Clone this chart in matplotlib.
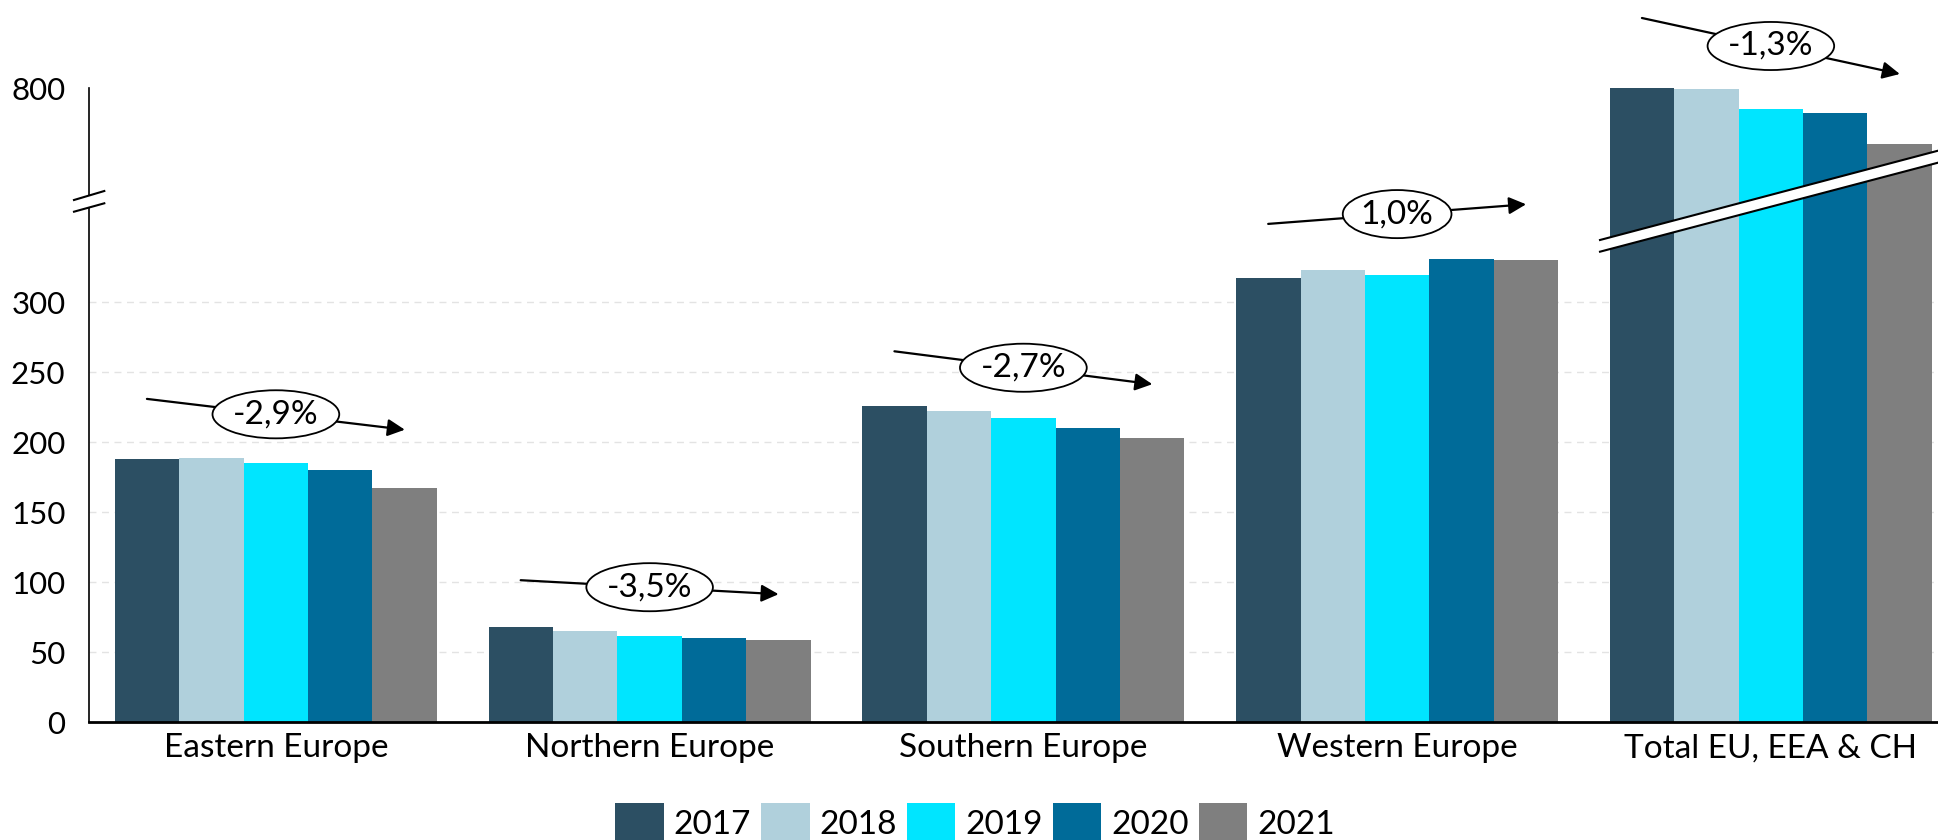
import matplotlib
matplotlib.use('Agg')
import matplotlib.pyplot as plt
from matplotlib.patches import Polygon
from matplotlib.lines import Line2D
import numpy as np

plt.rcParams['font.family'] = ['Lato', 'DejaVu Sans']

categories = ['Eastern Europe', 'Northern Europe', 'Southern Europe', 'Western Europe', 'Total EU, EEA & CH']
years = ['2017', '2018', '2019', '2020', '2021']

# values per region, 2017..2021
eastern = [188, 188.5, 185.5, 180, 167]
northern = [68, 65, 61.5, 60, 59]
southern = [226, 222.5, 217, 210, 203]
western = [317, 323, 319.5, 331, 330]
total = [800, 799, 785, 782, 760]

trend_labels = ['-2,9%', '-3,5%', '-2,7%', '1,0%', '-1,3%']
trend_start = [231, 101.5, 265, 356, 850]
trend_end = [209, 91.5, 241.5, 370, 810]

colors = ['#2c4f63', '#b0d0dc', '#00e5ff', '#006b99', '#7f7f7f']

values = np.array([eastern, northern, southern, western, total])

W, H = 1938, 840
fig = plt.figure(figsize=(W / 100, H / 100), dpi=100)

ax_left = 89 / W
ax_width = 5 * 373.75 / W
lo = fig.add_axes([ax_left, (H - 722.3) / H, ax_width, (722.3 - 200) / H])
hi = fig.add_axes([ax_left, (H - 200) / H, ax_width, 112 / H])
hi.set_facecolor('none')
lo.set_facecolor('none')

x = np.arange(len(categories))
bw = 64.4 / 373.75
bars = []
for j, yr in enumerate(years):
    b = lo.bar(x + (j - 2) * bw, values[:, j], width=bw, color=colors[j], zorder=2, label=yr)
    hi.bar(x[-1] + (j - 2) * bw, values[-1, j], width=bw, color=colors[j], zorder=2)
    bars.append(b)

fs = 22.5
fs_cat = 24
lo.set_xlim(-0.5, 4.5)
hi.set_xlim(-0.5, 4.5)
lo.set_ylim(0, (722.3 - 200) / 1.4)
hi.set_ylim(720, 800)

lo.set_yticks(np.arange(0, 301, 50))
lo.yaxis.grid(True, color='#e3e3e3', linestyle=(0, (5, 4)), linewidth=1, zorder=0)
lo.set_axisbelow(True)
lo.set_xticks(x)
lo.set_xticklabels(categories)
lo.tick_params(axis='x', length=0, pad=8, labelsize=fs_cat)
lo.tick_params(axis='y', length=0, pad=17, labelsize=fs)

hi.set_yticks([800])
hi.set_xticks([])
hi.tick_params(axis='y', length=0, pad=17, labelsize=fs)

for s in ['top', 'right']:
    lo.spines[s].set_visible(False)
for s in ['top', 'right', 'bottom']:
    hi.spines[s].set_visible(False)
lo.spines['left'].set_linewidth(1.2)
hi.spines['left'].set_linewidth(1.2)
lo.spines['bottom'].set_linewidth(2)

# trend arrows with ellipse labels
axes_for = [lo, lo, lo, lo, hi]
for i, lab in enumerate(trend_labels):
    a = axes_for[i]
    x0, x1 = x[i] - 0.345, x[i] + 0.345
    a.annotate('', xy=(x1, trend_end[i]), xytext=(x0, trend_start[i]),
               arrowprops=dict(arrowstyle='-|>', mutation_scale=26, lw=1.6, color='black',
                               shrinkA=0, shrinkB=0),
               annotation_clip=False, zorder=5)
    a.text(x[i], (trend_start[i] + trend_end[i]) / 2, lab, ha='center', va='center',
           fontsize=fs_cat, zorder=6, clip_on=False,
           bbox=dict(boxstyle='ellipse,pad=0.06', fc='white', ec='black', lw=1.3))


def fy(y):
    return 1 - y / H


def fx(xp):
    return xp / W


# break band across the total bars
band = Polygon([(fx(1600), fy(240)), (fx(1938), fy(150.7)), (fx(1938), fy(162.7)), (fx(1600), fy(251.7))],
               closed=True, transform=fig.transFigure, fc='white', ec='none', zorder=10)
fig.patches.append(band)
for yy0, yy1 in [(240, 150.7), (251.7, 162.7)]:
    fig.lines.append(Line2D([fx(1600), fx(1938)], [fy(yy0), fy(yy1)], transform=fig.transFigure,
                            color='black', lw=1.5, zorder=11))

# break mark on the y axis
mark = Polygon([(fx(74), fy(200)), (fx(104.3), fy(191)), (fx(104.3), fy(203.3)), (fx(74), fy(211.7))],
               closed=True, transform=fig.transFigure, fc='white', ec='none', zorder=10)
fig.patches.append(mark)
for yy0, yy1 in [(200, 191), (211.7, 203.3)]:
    fig.lines.append(Line2D([fx(74), fx(104.3)], [fy(yy0), fy(yy1)], transform=fig.transFigure,
                            color='black', lw=1.5, zorder=11))

fig.legend(handles=bars, labels=years, loc='center', bbox_to_anchor=(975 / W, 1 - 823 / H),
           ncol=5, frameon=False, fontsize=fs_cat, handlelength=1.45, handleheight=1.45,
           handletextpad=0.3, columnspacing=0.3, borderpad=0)

fig.savefig('out.png', dpi=100)
